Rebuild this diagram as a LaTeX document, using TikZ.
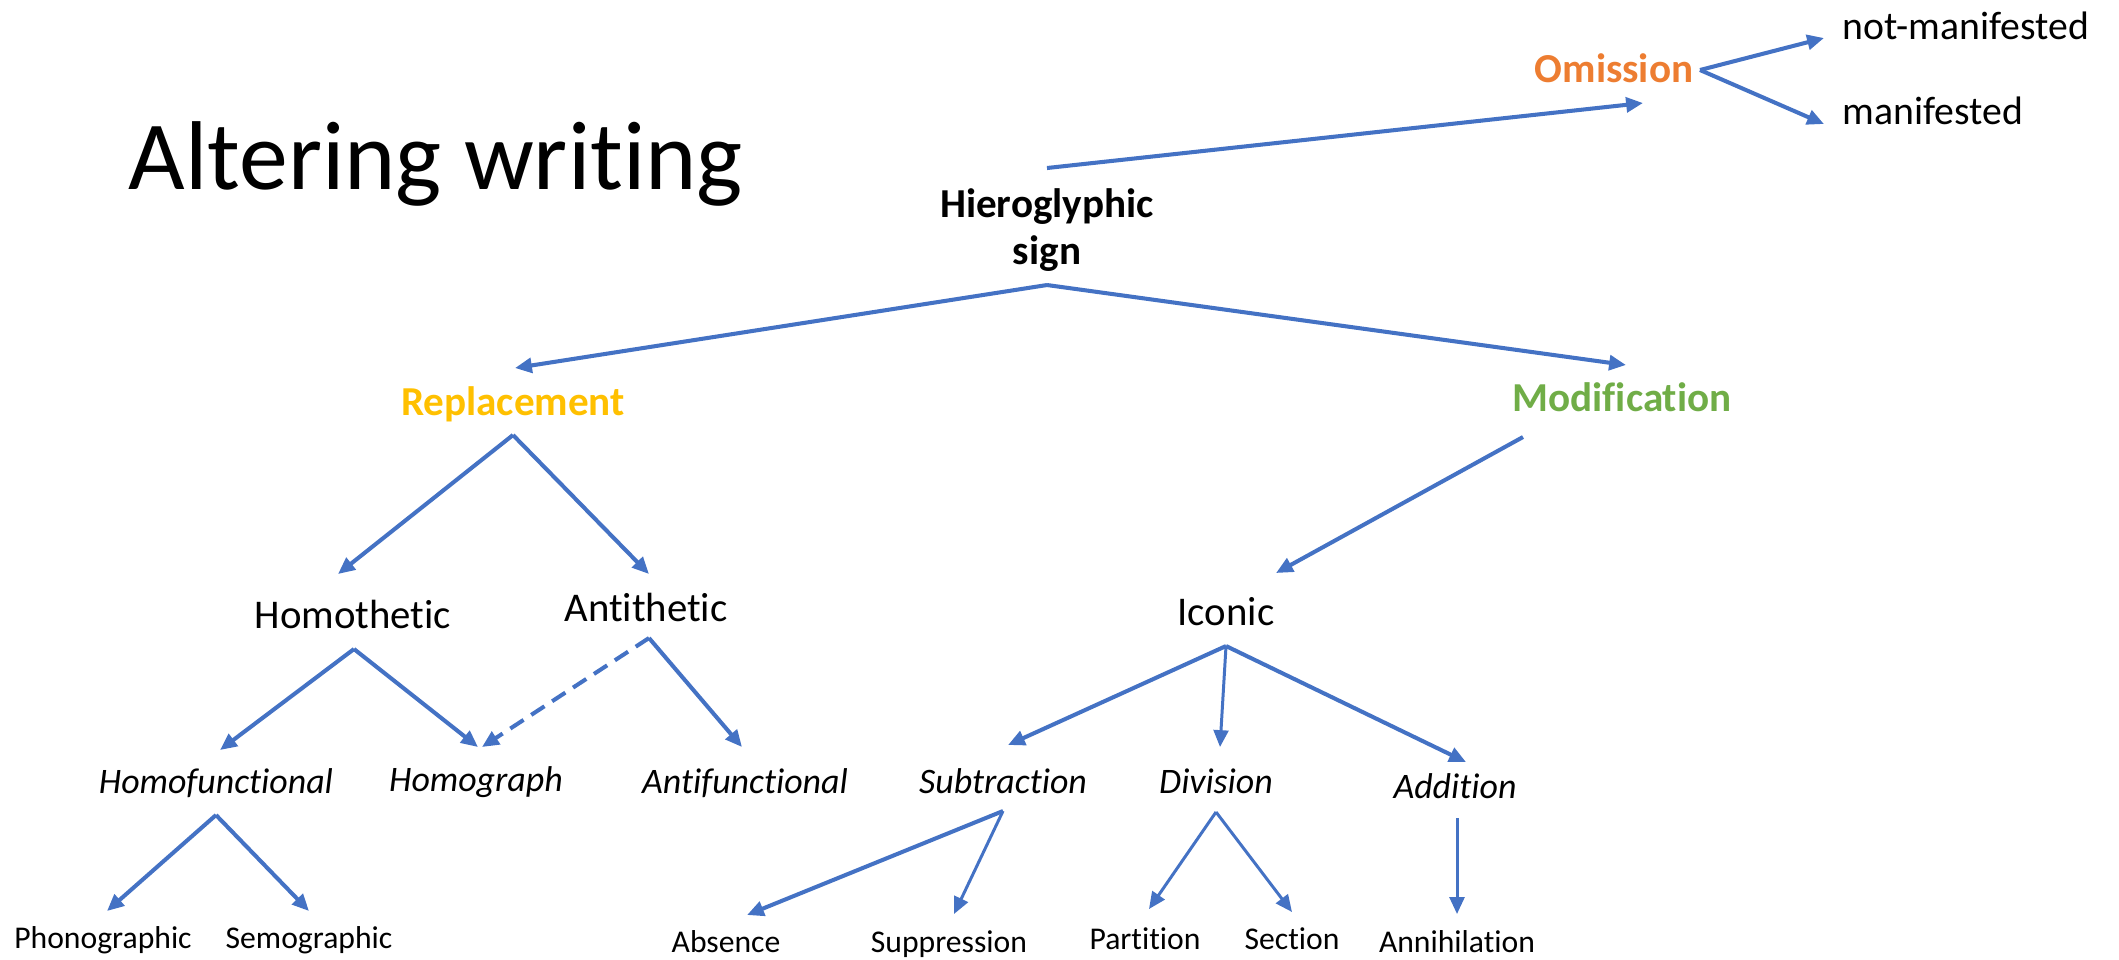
\documentclass[tikz,border=0pt]{standalone}
\usepackage{fontspec}
\setmainfont{Carlito}[Ligatures=NoCommon]
\usetikzlibrary{arrows.meta}
\definecolor{lnblue}{HTML}{4472C4}
\definecolor{omorange}{HTML}{ED7D31}
\definecolor{rpgold}{HTML}{FFC000}
\definecolor{mdgreen}{HTML}{70AD47}
\begin{document}
\begin{tikzpicture}[x=0.01cm,y=-0.01cm,
  lbl/.style={anchor=base,inner sep=0pt,font=\fontsize{11.6}{14}\selectfont},
  blbl/.style={anchor=base,inner sep=0pt,font=\fontsize{11.7}{14}\selectfont\bfseries},
  ilbl/.style={anchor=base,inner sep=0pt,font=\fontsize{10.2}{12}\selectfont\itshape},
  slbl/.style={anchor=base,inner sep=0pt,font=\fontsize{9}{11}\selectfont},
  arr/.style={draw=lnblue,line width=1.15pt,-{Triangle[length=4.8pt,width=4.2pt]}},
  thinarr/.style={arr,line width=0.85pt},
  dasharr/.style={arr,dash pattern=on 4.5pt off 2.6pt}]
\useasboundingbox (0,0) rectangle (2119,959);

% title
\node[anchor=base west,inner sep=0pt,font=\fontsize{27.8}{32}\selectfont] (title) at (128,189) {Altering writing};

% nodes
\node[inner sep=0pt,align=center,font=\fontsize{11.7}{13.4}\selectfont\bfseries] (hier) at (1047,230) {Hieroglyphic\\sign};
\node[blbl,text=omorange] (omis) at (1614,82) {Omission};
\node[lbl,anchor=base west,font=\fontsize{11.3}{14}\selectfont] (notm) at (1842,39) {not-manifested};
\node[lbl,anchor=base west,font=\fontsize{11.3}{14}\selectfont] (mani) at (1842,124) {manifested};
\node[blbl,text=rpgold] (repl) at (513,415) {Replacement};
\node[blbl,text=mdgreen] (modi) at (1622,411) {Modification};
\node[lbl] (homot) at (353,628) {Homothetic};
\node[lbl] (antit) at (646,621) {Antithetic};
\node[lbl] (icon) at (1226,625) {Iconic};
\node[ilbl] (homof) at (216,793) {Homofunctional};
\node[ilbl] (homog) at (476,791) {Homograph};
\node[ilbl] (antif) at (745,793) {Antifunctional};
\node[ilbl] (subt) at (1003,793) {Subtraction};
\node[ilbl] (divi) at (1216,793) {Division};
\node[ilbl] (addi) at (1455,798) {Addition};
\node[slbl] (phon) at (103,948) {Phonographic};
\node[slbl] (semo) at (309,948) {Semographic};
\node[slbl] (abse) at (726,952) {Absence};
\node[slbl] (supp) at (949,952) {Suppression};
\node[slbl] (part) at (1145,949) {Partition};
\node[slbl] (sect) at (1292,949) {Section};
\node[slbl] (anni) at (1457,952) {Annihilation};

% connector end points
\coordinate (hier-top) at (1047,168);
\coordinate (omis-in) at (1643,103);
\coordinate (omis-out) at (1700,70);
\coordinate (notm-in) at (1824,38);
\coordinate (mani-in) at (1824,124);
\coordinate (hier-bot) at (1047,285);
\coordinate (repl-in) at (515,368);
\coordinate (modi-in) at (1626,365);
\coordinate (repl-out) at (513,435);
\coordinate (homot-in) at (338,574);
\coordinate (antit-in) at (649,574);
\coordinate (modi-out) at (1523,437);
\coordinate (icon-in) at (1276,573);
\coordinate (homot-out) at (354,649);
\coordinate (homof-in) at (220,750);
\coordinate (homog-in) at (478,747);
\coordinate (antit-out) at (649,638);
\coordinate (homog-in2) at (482,747);
\coordinate (antif-in) at (742,747);
\coordinate (icon-out) at (1226,646);
\coordinate (subt-in) at (1008,745);
\coordinate (divi-in) at (1220,747);
\coordinate (addi-in) at (1466,762);
\coordinate (homof-out) at (216,815);
\coordinate (phon-in) at (107,911);
\coordinate (semo-in) at (309,911);
\coordinate (subt-out) at (1003,811);
\coordinate (abse-in) at (747,915);
\coordinate (supp-in) at (954,914);
\coordinate (divi-out) at (1216,812);
\coordinate (part-in) at (1149,909);
\coordinate (sect-in) at (1292,912);
\coordinate (addi-out) at (1457,818);
\coordinate (anni-in) at (1457,914);

% connectors
\draw[arr] (hier-top) -- (omis-in);
\draw[arr] (omis-out) -- (notm-in);
\draw[arr] (omis-out) -- (mani-in);
\draw[arr] (hier-bot) -- (repl-in);
\draw[arr] (hier-bot) -- (modi-in);
\draw[arr] (repl-out) -- (homot-in);
\draw[arr] (repl-out) -- (antit-in);
\draw[arr] (modi-out) -- (icon-in);
\draw[arr] (homot-out) -- (homof-in);
\draw[arr] (homot-out) -- (homog-in);
\draw[dasharr] (antit-out) -- (homog-in2);
\draw[arr] (antit-out) -- (antif-in);
\draw[arr] (icon-out) -- (subt-in);
\draw[thinarr] (icon-out) -- (divi-in);
\draw[arr] (icon-out) -- (addi-in);
\draw[arr] (homof-out) -- (phon-in);
\draw[arr] (homof-out) -- (semo-in);
\draw[arr] (subt-out) -- (abse-in);
\draw[thinarr] (subt-out) -- (supp-in);
\draw[thinarr] (divi-out) -- (part-in);
\draw[thinarr] (divi-out) -- (sect-in);
\draw[thinarr] (addi-out) -- (anni-in);
\end{tikzpicture}
\end{document}
